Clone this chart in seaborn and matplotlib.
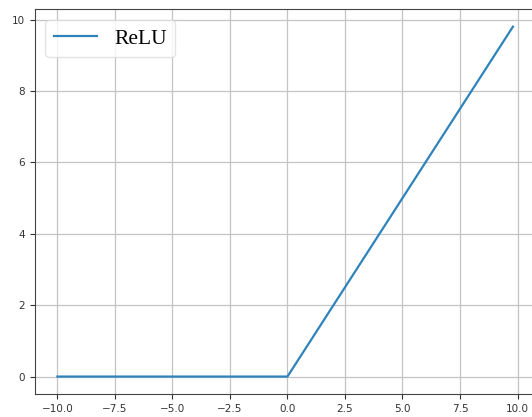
import matplotlib
matplotlib.use("Agg")
import matplotlib.pyplot as plt
import seaborn as sns
import pandas as pd

# Data (ReLU key points)
x_vals = [-10.0, 0.0, 9.8]
y_vals = [0.0, 0.0, 9.8]
series_label = "ReLU"
x_ticks = [-10.0, -7.5, -5.0, -2.5, 0.0, 2.5, 5.0, 7.5, 10.0]
y_ticks = [0, 2, 4, 6, 8, 10]

df = pd.DataFrame({"x": x_vals, "y": y_vals, "s": [series_label] * len(x_vals)})

fig = plt.figure(figsize=(5.32, 4.17), dpi=100)
ax = fig.add_axes([0.065, 0.055, 0.942, 0.923])
sns.lineplot(data=df, x="x", y="y", hue="s", palette=["#2f83bb"], ax=ax,
             linewidth=1.6, legend=True)

ax.set_xticks(x_ticks)
ax.set_yticks(y_ticks)
ax.set_xlabel("")
ax.set_ylabel("")
ax.tick_params(labelsize=7.5, colors="#333333")
ax.grid(True, color="#c4c4c4", linewidth=0.9)
for s in ax.spines.values():
    s.set_color("#444444")

leg = ax.legend(loc="upper left", prop={"family": "Liberation Serif", "size": 15.5},
                framealpha=0.8, edgecolor="#dddddd")

fig.savefig("out.png", dpi=100)
